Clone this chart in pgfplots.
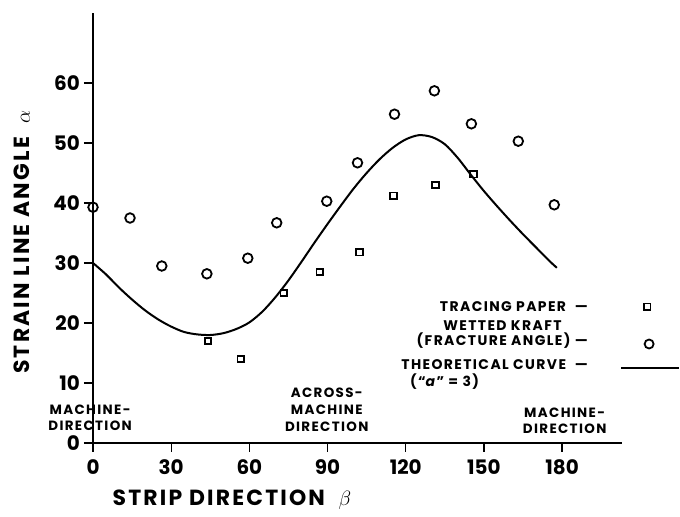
\documentclass[border=0pt]{standalone}
\usepackage{pgfplots}
\pgfplotsset{compat=1.18}
\usepackage{fontspec}
\setmainfont{Poppins}
\newfontfamily\spaced{Poppins}[LetterSpace=10, Ligatures=TeX]

\newcommand{\tickfont}{\fontsize{20}{20}\selectfont\bfseries}
\newcommand{\labfont}{\spaced\fontsize{22}{22}\selectfont\bfseries}
\newcommand{\notefont}{\spaced\fontsize{13.5}{17}\selectfont\bfseries}
\newcommand{\keyfont}{\spaced\fontsize{14}{16}\selectfont\bfseries}

\begin{document}
\begin{tikzpicture}[x=1bp,y=1bp]
\path[use as bounding box] (-93,-74) rectangle (587,443);
\begin{axis}[
  at={(0,0)}, anchor=south west,
  scale only axis, width=529bp, height=430bp,
  xmin=0, xmax=203, ymin=0, ymax=71.67,
  axis x line=bottom, axis y line=left,
  axis line style={-, line width=1.4bp},
  xtick={0,30,...,180}, ytick={0,10,...,60},
  tick align=outside, major tick length=9bp,
  tick style={line width=1.3bp, black},
  ticklabel style={font=\tickfont},
  yticklabel style={inner xsep=1bp, xshift=-3bp},
  xticklabel style={yshift=-4bp},
  /pgf/number format/assume math mode=true,
  clip=false,
]
% theoretical curve, "a" = 3
\addplot[line width=2bp, smooth] coordinates {
  (0,30) (5,28.1) (10,25.9) (15,23.9) (20,22.1) (25,20.6) (30,19.4)
  (35,18.5) (40,18.1) (45,18.0) (50,18.3) (55,19.0) (60,20.1)
  (65,21.9) (70,24.3) (75,27.1) (80,30.2) (85,33.4) (90,36.5)
  (95,39.5) (100,42.4) (105,45.0) (110,47.3) (115,49.2) (120,50.6)
  (125,51.3) (130,51.0) (135,49.8) (140,47.5) (145,44.7) (150,42.0)
  (155,39.5) (160,37.1) (165,34.8) (170,32.6) (175,30.4) (178,29.2)
};
% wetted kraft (fracture angle)
\addplot[only marks, mark=o, mark size=4.8bp, mark options={line width=1.8bp}] coordinates {
  (0,39.3) (14.2,37.5) (26.4,29.5) (43.7,28.2) (59.4,30.8) (70.5,36.7)
  (89.7,40.3) (101.5,46.7) (115.7,54.8) (131,58.7) (145.2,53.2)
  (163.2,50.3) (177,39.7)
};
% tracing paper
\addplot[only marks, mark=square, mark size=3.3bp, mark options={line width=1.8bp}] coordinates {
  (44.1,17.0) (56.7,14.0) (73.2,25.0) (87,28.5) (102.3,31.8)
  (115.3,41.2) (131.4,43.0) (146,44.8)
};
% key symbols
\addplot[only marks, mark=square, mark size=3.3bp, mark options={line width=1.8bp}] coordinates {(212.7,22.7)};
\addplot[only marks, mark=o, mark size=4.5bp, mark options={line width=1.8bp}] coordinates {(213.4,16.5)};
\addplot[line width=2bp] coordinates {(202.7,12.5) (224.9,12.5)};

% key text
\node[anchor=east, font=\keyfont] at (axis cs:191.2,22.7) {TRACING PAPER \ —};
\node[font=\keyfont] at (axis cs:157.1,19.5) {WETTED KRAFT};
\node[anchor=east, font=\keyfont] at (axis cs:191.2,17) {(FRACTURE ANGLE) —};
\node[anchor=east, font=\keyfont] at (axis cs:191.2,13) {THEORETICAL CURVE \ —};
\node[font=\keyfont] at (axis cs:134.9,10.2) {(\textquotedblleft\textit{a}\textquotedblright{} = 3)};

% direction notes
\node[align=center, font=\notefont] at (axis cs:-1.1,4.2) {MACHINE-\\DIRECTION};
\node[align=center, font=\notefont] at (axis cs:89.7,5.5) {ACROSS-\\MACHINE\\DIRECTION};
\node[align=center, font=\notefont] at (axis cs:181,3.7) {MACHINE-\\DIRECTION};

% axis titles
\node[rotate=90, font=\labfont] at (axis cs:-27.2,33.5) {STRAIN LINE ANGLE \ $\alpha$};
\node[font=\labfont] at (axis cs:53.3,-9.5) {STRIP DIRECTION \ $\beta$};
\end{axis}
\end{tikzpicture}
\end{document}
